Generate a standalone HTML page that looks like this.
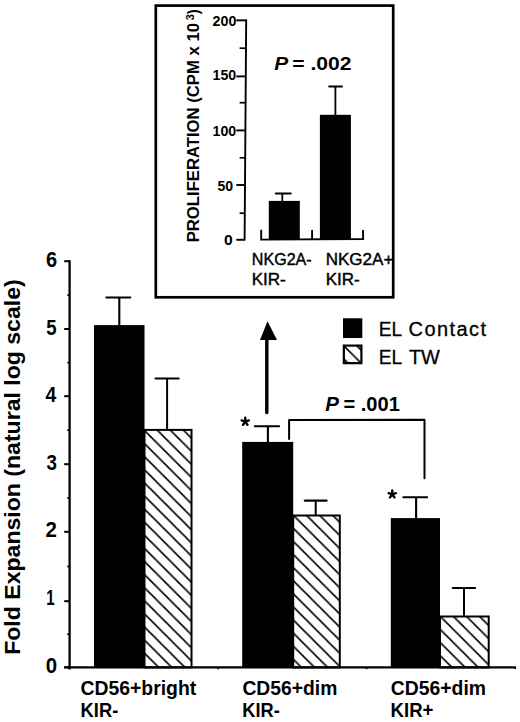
<!DOCTYPE html>
<html><head><meta charset="utf-8"><style>
html,body{margin:0;padding:0;background:#fff;}
svg{display:block;}
.b{font-family:"Liberation Sans",sans-serif;font-weight:bold;}
.bi{font-family:"Liberation Sans",sans-serif;font-weight:bold;font-style:italic;}
.r{font-family:"Liberation Sans",sans-serif;}
text{fill:#000;}
</style></head><body>
<svg width="520" height="722" viewBox="0 0 520 722">
<rect x="0" y="0" width="520" height="722" fill="#fff"/>
<defs><pattern id="h1" patternUnits="userSpaceOnUse" width="13.1" height="13.1" patternTransform="translate(2.2,0)"><path d="M-3,-3 L16.1,16.1 M-3,10.1 L3,16.1 M10.1,-3 L16.1,3" stroke="#000" stroke-width="1.6"/></pattern><pattern id="h2" patternUnits="userSpaceOnUse" width="13.1" height="13.1" patternTransform="translate(0.8,0)"><path d="M-3,-3 L16.1,16.1 M-3,10.1 L3,16.1 M10.1,-3 L16.1,3" stroke="#000" stroke-width="1.6"/></pattern><pattern id="h3" patternUnits="userSpaceOnUse" width="13.1" height="13.1" patternTransform="translate(7.3,0)"><path d="M-3,-3 L16.1,16.1 M-3,10.1 L3,16.1 M10.1,-3 L16.1,3" stroke="#000" stroke-width="1.6"/></pattern><pattern id="h4" patternUnits="userSpaceOnUse" width="13.1" height="13.1" patternTransform="translate(-2.0,0)"><path d="M-3,-3 L16.1,16.1 M-3,10.1 L3,16.1 M10.1,-3 L16.1,3" stroke="#000" stroke-width="1.6"/></pattern></defs>
<rect x="155.8" y="5.6" width="237.4" height="291.7" fill="none" stroke="#000" stroke-width="2.7"/>
<line x1="69.6" y1="260.2" x2="69.6" y2="669.4" stroke="#000" stroke-width="2.3" stroke-linecap="butt"/>
<line x1="64.2" y1="667.3" x2="69.6" y2="667.3" stroke="#000" stroke-width="2" stroke-linecap="butt"/>
<line x1="64.2" y1="601.2" x2="69.6" y2="601.2" stroke="#000" stroke-width="2" stroke-linecap="butt"/>
<line x1="64.2" y1="531.8" x2="69.6" y2="531.8" stroke="#000" stroke-width="2" stroke-linecap="butt"/>
<line x1="64.2" y1="464.2" x2="69.6" y2="464.2" stroke="#000" stroke-width="2" stroke-linecap="butt"/>
<line x1="64.2" y1="396.2" x2="69.6" y2="396.2" stroke="#000" stroke-width="2" stroke-linecap="butt"/>
<line x1="64.2" y1="329.0" x2="69.6" y2="329.0" stroke="#000" stroke-width="2" stroke-linecap="butt"/>
<line x1="64.2" y1="261.2" x2="69.6" y2="261.2" stroke="#000" stroke-width="2" stroke-linecap="butt"/>
<line x1="67.2" y1="634.25" x2="69.6" y2="634.25" stroke="#000" stroke-width="1.6" stroke-linecap="butt"/>
<line x1="67.2" y1="566.5" x2="69.6" y2="566.5" stroke="#000" stroke-width="1.6" stroke-linecap="butt"/>
<line x1="67.2" y1="498.0" x2="69.6" y2="498.0" stroke="#000" stroke-width="1.6" stroke-linecap="butt"/>
<line x1="67.2" y1="430.2" x2="69.6" y2="430.2" stroke="#000" stroke-width="1.6" stroke-linecap="butt"/>
<line x1="67.2" y1="362.6" x2="69.6" y2="362.6" stroke="#000" stroke-width="1.6" stroke-linecap="butt"/>
<line x1="67.2" y1="295.1" x2="69.6" y2="295.1" stroke="#000" stroke-width="1.6" stroke-linecap="butt"/>
<line x1="64.2" y1="667.4" x2="516" y2="667.4" stroke="#000" stroke-width="2.2" stroke-linecap="butt"/>
<line x1="515.2" y1="667.4" x2="515.2" y2="669.0" stroke="#000" stroke-width="1.8" stroke-linecap="butt"/>
<line x1="218.0" y1="667.4" x2="218.0" y2="669.1999999999999" stroke="#000" stroke-width="1.6" stroke-linecap="butt"/>
<line x1="366.5" y1="667.4" x2="366.5" y2="669.1999999999999" stroke="#000" stroke-width="1.6" stroke-linecap="butt"/>
<text x="45.90" y="266.50" class="b" font-size="22.3" textLength="11.12" lengthAdjust="spacingAndGlyphs">6</text>
<text x="46.34" y="334.50" class="b" font-size="22.3" textLength="10.34" lengthAdjust="spacingAndGlyphs">5</text>
<text x="45.61" y="401.80" class="b" font-size="22.3" textLength="10.81" lengthAdjust="spacingAndGlyphs">4</text>
<text x="46.43" y="469.70" class="b" font-size="22.3" textLength="10.45" lengthAdjust="spacingAndGlyphs">3</text>
<text x="45.59" y="537.10" class="b" font-size="22.3" textLength="11.36" lengthAdjust="spacingAndGlyphs">2</text>
<text x="46.32" y="604.80" class="b" font-size="22.3" textLength="8.37" lengthAdjust="spacingAndGlyphs">1</text>
<text x="45.78" y="672.50" class="b" font-size="22.3" textLength="11.36" lengthAdjust="spacingAndGlyphs">0</text>
<line x1="119.3" y1="297.5" x2="119.3" y2="326.1" stroke="#000" stroke-width="2.1" stroke-linecap="butt"/>
<line x1="106.3" y1="297.5" x2="130.3" y2="297.5" stroke="#000" stroke-width="2.0" stroke-linecap="round"/>
<rect x="94.0" y="325.1" width="50.50" height="342.30" fill="#000"/>
<line x1="267.9" y1="426.2" x2="267.9" y2="442.9" stroke="#000" stroke-width="2.1" stroke-linecap="butt"/>
<line x1="254.79999999999998" y1="426.2" x2="279.09999999999997" y2="426.2" stroke="#000" stroke-width="2.0" stroke-linecap="round"/>
<rect x="242.2" y="441.9" width="51.00" height="225.50" fill="#000"/>
<line x1="416.1" y1="497.3" x2="416.1" y2="519.1" stroke="#000" stroke-width="2.1" stroke-linecap="butt"/>
<line x1="403.3" y1="497.3" x2="427.09999999999997" y2="497.3" stroke="#000" stroke-width="2.0" stroke-linecap="round"/>
<rect x="390.8" y="518.1" width="49.20" height="149.30" fill="#000"/>
<line x1="167.1" y1="378.5" x2="167.1" y2="429.9" stroke="#000" stroke-width="2.0" stroke-linecap="butt"/>
<line x1="155.5" y1="378.5" x2="178.6" y2="378.5" stroke="#000" stroke-width="2.2" stroke-linecap="round"/>
<rect x="144.5" y="429.9" width="47.00" height="237.50" fill="url(#h1)" stroke="#000" stroke-width="2"/>
<line x1="315.7" y1="500.6" x2="315.7" y2="515.5" stroke="#000" stroke-width="2.0" stroke-linecap="butt"/>
<line x1="304.8" y1="500.6" x2="326.59999999999997" y2="500.6" stroke="#000" stroke-width="2.2" stroke-linecap="round"/>
<rect x="293.2" y="515.5" width="46.60" height="151.90" fill="url(#h2)" stroke="#000" stroke-width="2"/>
<line x1="464.0" y1="588.0" x2="464.0" y2="616.5" stroke="#000" stroke-width="2.0" stroke-linecap="butt"/>
<line x1="452.8" y1="588.0" x2="475.0" y2="588.0" stroke="#000" stroke-width="2.2" stroke-linecap="round"/>
<rect x="440.0" y="616.5" width="48.70" height="50.90" fill="url(#h3)" stroke="#000" stroke-width="2"/>
<text transform="translate(20.40,653.30) rotate(-90)" x="-1.50" y="0" class="b" font-size="22.4" textLength="375.45" lengthAdjust="spacingAndGlyphs">Fold Expansion (natural log scale)</text>
<text x="80.42" y="694.50" class="b" font-size="19.5" textLength="115.83" lengthAdjust="spacingAndGlyphs">CD56+bright</text>
<text x="80.61" y="717.00" class="b" font-size="19.5" textLength="37.63" lengthAdjust="spacingAndGlyphs">KIR-</text>
<text x="242.43" y="694.50" class="b" font-size="19.5" textLength="95.00" lengthAdjust="spacingAndGlyphs">CD56+dim</text>
<text x="242.32" y="717.00" class="b" font-size="19.5" textLength="37.42" lengthAdjust="spacingAndGlyphs">KIR-</text>
<text x="390.72" y="694.50" class="b" font-size="19.5" textLength="95.31" lengthAdjust="spacingAndGlyphs">CD56+dim</text>
<text x="390.59" y="717.00" class="b" font-size="19.5" textLength="42.87" lengthAdjust="spacingAndGlyphs">KIR+</text>
<rect x="343" y="318.3" width="19.3" height="19.7" fill="#000"/>
<rect x="343.85" y="345.6" width="17.55" height="17.55" fill="url(#h4)" stroke="#000" stroke-width="2.2"/>
<text x="378.87" y="336.30" class="r" font-size="20" textLength="23.36" lengthAdjust="spacingAndGlyphs" stroke="#000" stroke-width="0.3">EL</text>
<text x="408.50" y="336.30" class="r" font-size="20" textLength="77.63" lengthAdjust="spacing" stroke="#000" stroke-width="0.3">Contact</text>
<text x="378.87" y="364.30" class="r" font-size="20" textLength="23.36" lengthAdjust="spacingAndGlyphs" stroke="#000" stroke-width="0.3">EL</text>
<text x="408.90" y="364.30" class="r" font-size="20" textLength="30.99" lengthAdjust="spacingAndGlyphs" stroke="#000" stroke-width="0.3">TW</text>
<line x1="266.8" y1="338" x2="266.8" y2="412.6" stroke="#000" stroke-width="3.4" stroke-linecap="round"/>
<path d="M267.5,321.2 L277,340 L260,340 Z" fill="#000"/>
<path d="M245.25,421.60 L245.25,417.80 M245.25,421.60 L248.86,420.43 M245.25,421.60 L247.48,424.67 M245.25,421.60 L243.02,424.67 M245.25,421.60 L241.64,420.43 " stroke="#000" stroke-width="2.4" stroke-linecap="round" fill="none"/>
<path d="M392.25,494.30 L392.25,490.50 M392.25,494.30 L395.86,493.13 M392.25,494.30 L394.48,497.37 M392.25,494.30 L390.02,497.37 M392.25,494.30 L388.64,493.13 " stroke="#000" stroke-width="2.4" stroke-linecap="round" fill="none"/>
<text x="325.29" y="410.60" class="bi" font-size="20" textLength="13.65" lengthAdjust="spacingAndGlyphs">P</text>
<text x="343.50" y="410.60" class="b" font-size="20" textLength="56.37" lengthAdjust="spacingAndGlyphs">= .001</text>
<path d="M289.1,439.0 L289.1,420.0 L424.5,419.8 L424.5,478.3" fill="none" stroke="#000" stroke-width="2" stroke-linejoin="round" stroke-linecap="round"/>
<line x1="246.2" y1="19.4" x2="244.6" y2="240.6" stroke="#000" stroke-width="1.9" stroke-linecap="butt"/>
<line x1="236.3" y1="20.35" x2="246.19745454545455" y2="20.35" stroke="#000" stroke-width="1.9" stroke-linecap="butt"/>
<line x1="236.3" y1="76.4" x2="245.78981818181816" y2="76.4" stroke="#000" stroke-width="1.9" stroke-linecap="butt"/>
<line x1="236.3" y1="130.4" x2="245.3970909090909" y2="130.4" stroke="#000" stroke-width="1.9" stroke-linecap="butt"/>
<line x1="236.3" y1="185.0" x2="245.0" y2="185.0" stroke="#000" stroke-width="1.9" stroke-linecap="butt"/>
<line x1="236.3" y1="239.8" x2="244.60145454545454" y2="239.8" stroke="#000" stroke-width="1.9" stroke-linecap="butt"/>
<line x1="239.6" y1="48.2" x2="245.9949090909091" y2="48.2" stroke="#000" stroke-width="1.7" stroke-linecap="butt"/>
<line x1="239.6" y1="102.7" x2="245.59854545454544" y2="102.7" stroke="#000" stroke-width="1.7" stroke-linecap="butt"/>
<line x1="239.6" y1="157.8" x2="245.19781818181818" y2="157.8" stroke="#000" stroke-width="1.7" stroke-linecap="butt"/>
<line x1="239.6" y1="213.2" x2="244.79490909090907" y2="213.2" stroke="#000" stroke-width="1.7" stroke-linecap="butt"/>
<text x="212.60" y="25.60" class="b" font-size="15" textLength="23.72" lengthAdjust="spacingAndGlyphs">200</text>
<text x="212.58" y="80.00" class="b" font-size="15" textLength="23.64" lengthAdjust="spacingAndGlyphs">150</text>
<text x="212.58" y="136.00" class="b" font-size="15" textLength="23.64" lengthAdjust="spacingAndGlyphs">100</text>
<text x="217.48" y="190.60" class="b" font-size="15" textLength="15.62" lengthAdjust="spacingAndGlyphs">50</text>
<text x="223.98" y="244.90" class="b" font-size="15" textLength="8.66" lengthAdjust="spacingAndGlyphs">0</text>
<path d="M261.2,229.8 L261.2,239.6 L363.1,239.0 L363.1,230 M312.1,230 L312.1,239.3" fill="none" stroke="#000" stroke-width="1.9"/>
<line x1="282.3" y1="193.5" x2="282.3" y2="201" stroke="#000" stroke-width="1.8" stroke-linecap="butt"/>
<line x1="275.8" y1="193.5" x2="290.7" y2="193.5" stroke="#000" stroke-width="2.0" stroke-linecap="round"/>
<rect x="268.8" y="200.9" width="31.0" height="38.5" fill="#000"/>
<line x1="335.4" y1="86.4" x2="335.4" y2="115" stroke="#000" stroke-width="1.8" stroke-linecap="butt"/>
<line x1="329.2" y1="86.4" x2="342.0" y2="86.4" stroke="#000" stroke-width="2.0" stroke-linecap="round"/>
<rect x="319.9" y="114.8" width="31.0" height="124.4" fill="#000"/>
<text x="251.81" y="265.00" class="r" font-size="16" textLength="59.88" lengthAdjust="spacingAndGlyphs" stroke="#000" stroke-width="0.4">NKG2A-</text>
<text x="251.74" y="284.60" class="r" font-size="16" textLength="34.03" lengthAdjust="spacingAndGlyphs" stroke="#000" stroke-width="0.4">KIR-</text>
<text x="325.74" y="265.00" class="r" font-size="16" textLength="67.60" lengthAdjust="spacingAndGlyphs" stroke="#000" stroke-width="0.4">NKG2A+</text>
<text x="325.74" y="284.60" class="r" font-size="16" textLength="34.03" lengthAdjust="spacingAndGlyphs" stroke="#000" stroke-width="0.4">KIR-</text>
<text x="274.18" y="69.80" class="bi" font-size="18" textLength="13.96" lengthAdjust="spacingAndGlyphs">P</text>
<text x="292.25" y="69.80" class="b" font-size="18" textLength="59.36" lengthAdjust="spacingAndGlyphs">= .002</text>
<text transform="translate(199.20,241.25) rotate(-90)" x="-1.08" y="0" class="b" font-size="16" textLength="219.30" lengthAdjust="spacingAndGlyphs">PROLIFERATION (CPM x 10</text>
<text transform="translate(194.00,20.00) rotate(-90)" x="-0.27" y="0" class="b" font-size="10" textLength="6.07" lengthAdjust="spacingAndGlyphs">3</text>
<text transform="translate(199.20,14.10) rotate(-90)" x="-0.07" y="0" class="b" font-size="16" textLength="4.88" lengthAdjust="spacingAndGlyphs">)</text>
</svg></body></html>
